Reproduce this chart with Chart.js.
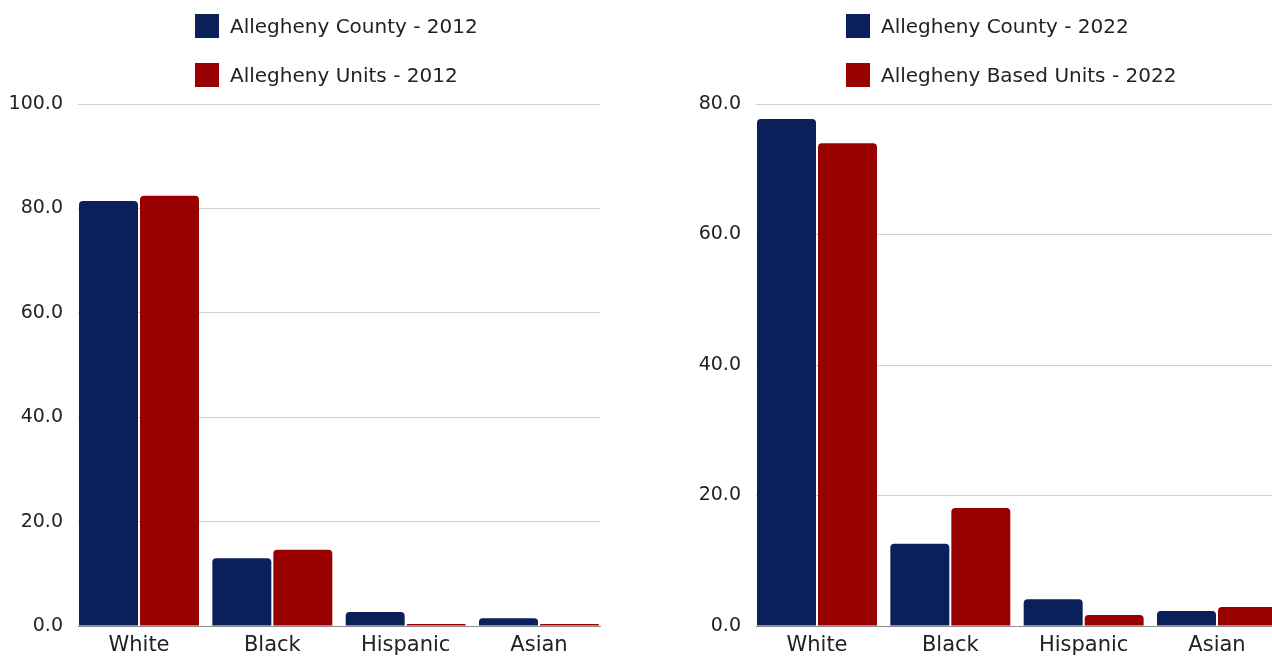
<!DOCTYPE html>
<html>
<head>
<meta charset="utf-8">
<script src="https://cdn.jsdelivr.net/npm/chart.js@4"></script>
<style>
  html, body { margin: 0; padding: 0; background: #fff; }
  body { width: 1272px; height: 656px; overflow: hidden; position: relative; font-family: "DejaVu Sans", sans-serif; }
  .panel { position: absolute; top: 0; width: 620px; height: 656px; }
  .legend { position: absolute; top: 13px; }
  .legend .item { display: flex; align-items: center; height: 25px; margin-bottom: 24px; font-size: 20px; color: #222; white-space: nowrap; }
  .legend .swatch { width: 24px; height: 24px; margin-right: 11px; flex: none; }
</style>
</head>
<body>
<div class="panel" style="left:0"><canvas id="c2012"></canvas></div>
<div class="panel" style="left:678px"><canvas id="c2022"></canvas></div>
<div class="legend" id="lg2012" style="left:195px"></div>
<div class="legend" id="lg2022" style="left:846px"></div>
<script>
// Race / ethnicity share (%) of residents vs. housing units
const categories = ['White', 'Black', 'Hispanic', 'Asian'];

const county2012 = [81.4, 13.0, 2.7, 1.5];
const units2012  = [82.4, 14.6, 0.4, 0.4];
const county2022 = [77.7, 12.6, 4.1, 2.3];
const units2022  = [74.0, 18.1, 1.7, 2.9];

const labels2012 = ['Allegheny County - 2012', 'Allegheny Units - 2012'];
const labels2022 = ['Allegheny County - 2022', 'Allegheny Based Units - 2022'];

const yMax2012 = 100;
const yMax2022 = 80;
const yStep = 20;

const NAVY = '#0b1f5b';
const RED = '#990000';
const FONT = '"DejaVu Sans", sans-serif';
const CAT_PCT = 0.915;

function points(values) {
  return values.map((v, i) => ({ x: i, y: v }));
}

function buildLegend(id, names) {
  const el = document.getElementById(id);
  [NAVY, RED].forEach((col, i) => {
    const item = document.createElement('div');
    item.className = 'item';
    const sw = document.createElement('span');
    sw.className = 'swatch';
    sw.style.background = col;
    const tx = document.createElement('span');
    tx.textContent = names[i];
    item.appendChild(sw);
    item.appendChild(tx);
    el.appendChild(item);
  });
}

function makeChart(id, names, a, b, yMax) {
  return new Chart(document.getElementById(id), {
    type: 'bar',
    data: {
      datasets: [
        { label: names[0], data: points(a), backgroundColor: NAVY },
        { label: names[1], data: points(b), backgroundColor: RED }
      ]
    },
    options: {
      responsive: true,
      maintainAspectRatio: false,
      animation: false,
      layout: { padding: { top: 104, right: 20, bottom: 0, left: 0 } },
      datasets: {
        bar: {
          categoryPercentage: CAT_PCT,
          barPercentage: 0.967,
          borderRadius: { topLeft: 4, topRight: 4 },
          borderSkipped: 'start'
        }
      },
      plugins: { legend: { display: false }, tooltip: { enabled: false } },
      scales: {
        x: {
          type: 'linear',
          offset: false,
          min: -CAT_PCT / 2,
          max: categories.length - 1 + CAT_PCT / 2,
          afterBuildTicks: s => { s.ticks = categories.map((_, i) => ({ value: i })); },
          afterFit: s => { s.height = 30; },
          grid: { display: false, drawTicks: false, offset: false },
          border: { display: true, color: '#8c8c8c', width: 1 },
          ticks: {
            autoSkip: false, maxRotation: 0, padding: 7,
            color: '#222',
            font: { family: FONT, size: 21 },
            callback: v => categories[v] ?? ''
          }
        },
        y: {
          min: 0, max: yMax,
          afterFit: s => { s.width = 78; },
          grid: { color: '#cfcfcf', lineWidth: 1, drawTicks: false },
          border: { display: false },
          ticks: {
            stepSize: yStep, padding: 15,
            color: '#222',
            font: { family: FONT, size: 19 },
            callback: v => Number(v).toFixed(1)
          }
        }
      }
    }
  });
}

buildLegend('lg2012', labels2012);
buildLegend('lg2022', labels2022);
makeChart('c2012', labels2012, county2012, units2012, yMax2012);
makeChart('c2022', labels2022, county2022, units2022, yMax2022);
</script>
</body>
</html>
